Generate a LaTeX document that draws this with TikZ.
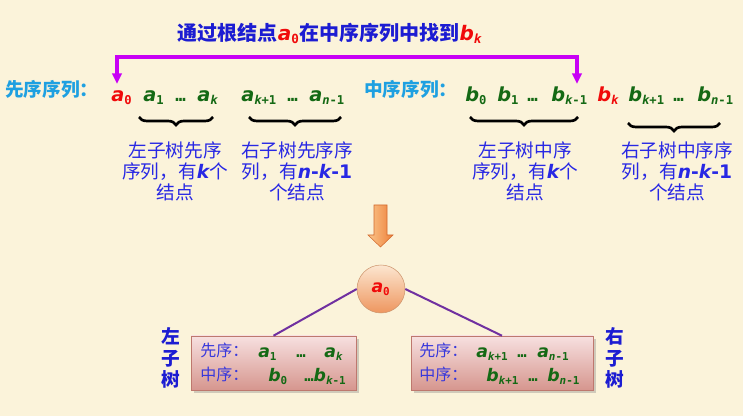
\documentclass[tikz,border=0pt]{standalone}
\usepackage{fontspec}
\setmainfont{Noto Sans CJK SC}
\newfontfamily\varfont{DejaVu Sans}
\newfontfamily\subfont{DejaVu Sans Mono}[Scale=0.9]
\usetikzlibrary{arrows.meta,decorations.pathreplacing,shadows}

\definecolor{bgpaper}{RGB}{251,243,218}
\definecolor{titleblue}{RGB}{28,28,210}
\definecolor{noteblue}{RGB}{40,40,228}
\definecolor{boxblue}{RGB}{55,55,220}
\definecolor{rowcyan}{RGB}{30,160,225}
\definecolor{vargreen}{RGB}{20,105,20}
\definecolor{varred}{RGB}{240,10,10}
\definecolor{linkmag}{RGB}{200,0,245}
\definecolor{treeline}{RGB}{112,48,160}
\definecolor{boxtop}{RGB}{247,224,224}
\definecolor{boxbot}{RGB}{214,150,142}
\definecolor{boxedge}{RGB}{190,120,110}
\definecolor{balltop}{RGB}{252,230,208}
\definecolor{ballbot}{RGB}{238,150,95}
\definecolor{balledge}{RGB}{205,150,110}
\definecolor{arrowlt}{RGB}{250,198,140}
\definecolor{arrowdk}{RGB}{238,128,58}
\definecolor{arrowedge}{RGB}{210,105,45}

\newcommand{\vv}[2]{{\varfont\bfseries\itshape #1}\textsubscript{\subfont\bfseries #2}}
\newcommand{\nv}[1]{{\varfont\bfseries\itshape #1}}
\newcommand{\seqdots}{{\subfont\bfseries …}}

\begin{document}
\begin{tikzpicture}[x=0.75pt,y=-0.75pt,
    seqvar/.style={anchor=base west,inner sep=0pt,text=vargreen,font=\fontsize{14.5}{17}\selectfont},
    boxvar/.style={seqvar,font=\fontsize{13}{15}\selectfont},
    rowlabel/.style={anchor=base west,inner sep=0pt,text=rowcyan,font=\fontsize{14}{16}\selectfont\bfseries},
    boxlabel/.style={anchor=base west,inner sep=0pt,text=boxblue,font=\fontsize{12}{14}\selectfont},
    note/.style={align=center,inner sep=0pt,text=noteblue,font=\fontsize{14}{15.75}\selectfont},
    sidelabel/.style={align=center,inner sep=0pt,text=titleblue,font=\fontsize{14}{16.1}\selectfont\bfseries},
    groupbrace/.style={decorate,decoration={brace,mirror,amplitude=6pt},line width=2pt},
    link/.style={draw=linkmag,line width=3pt,{Triangle[length=8pt,width=7pt]}-{Triangle[length=8pt,width=7pt]}},
    treebox/.style={draw=boxedge,top color=boxtop,bottom color=boxbot,inner sep=0pt,
        drop shadow={shadow xshift=2pt,shadow yshift=-2pt,opacity=0.35}},
    rootball/.style={circle,draw=balledge,top color=balltop,bottom color=ballbot,minimum size=36pt,inner sep=0pt,
        text=varred,font=\fontsize{13}{15}\selectfont}]
\fill[bgpaper] (0,0) rectangle (743,416);
\useasboundingbox (0,0) rectangle (743,416);

\node[anchor=base,inner sep=0pt,text=titleblue,font=\fontsize{15}{17}\selectfont\bfseries] (title) at (330,41)
    {通过根结点\textcolor{varred}{\vv{a}{0}}在中序序列中找到\textcolor{varred}{\vv{b}{\itshape k}}};
\coordinate (linkL) at (117,84);
\coordinate (linkR) at (577,84);
\draw[link] (linkL) -- ++(0,-27) -| (linkR);

\node[rowlabel] (pre) at (5,97) {先序序列：};
    \node[seqvar,text=varred] (a0) at (111,102) {\vv{a}{0}};
    \node[seqvar] (a1) at (143,102) {\vv{a}{1}};
    \node[seqvar] (ad1) at (175,102) {\seqdots};
    \node[seqvar] (ak) at (197,102) {\vv{a}{\itshape k}};
    \node[seqvar] (ak1) at (241,102) {\vv{a}{{\itshape k}+1}};
    \node[seqvar] (ad2) at (287,102) {\seqdots};
    \node[seqvar] (an1) at (309,102) {\vv{a}{{\itshape n}-1}};

\node[rowlabel] (in) at (364,97) {中序序列：};
    \node[seqvar] (b0) at (465,102) {\vv{b}{0}};
    \node[seqvar] (b1) at (497,102) {\vv{b}{1}};
    \node[seqvar] (bd1) at (527,102) {\seqdots};
    \node[seqvar] (bkm1) at (551,102) {\vv{b}{{\itshape k}-1}};
    \node[seqvar,text=varred] (bk) at (597,102) {\vv{b}{\itshape k}};
    \node[seqvar] (bk1) at (628,102) {\vv{b}{{\itshape k}+1}};
    \node[seqvar] (bd2) at (673,102) {\seqdots};
    \node[seqvar] (bn1) at (697,102) {\vv{b}{{\itshape n}-1}};

\draw[groupbrace] (139,117) -- (213,117);
\draw[groupbrace] (249,117) -- (341,117);
\draw[groupbrace] (470,117) -- (578,117);
\draw[groupbrace] (628,123) -- (720,123);

\node[note] (lpre) at (175,171) {左子树先序\\序列，有\nv{k}个\\结点};
\node[note] (rpre) at (297,171) {右子树先序序\\列，有{\varfont\bfseries\nv{n}-\nv{k}-1}\\个结点};
\node[note] (lin) at (525,171) {左子树中序\\序列，有\nv{k}个\\结点};
\node[note] (rin) at (677,171) {右子树中序序\\列，有{\varfont\bfseries\nv{n}-\nv{k}-1}\\个结点};

\draw[arrowedge,left color=arrowlt,right color=arrowdk] (374,205) -- (387,205) -- (387,235) -- (393,235)
    -- (380.5,247) -- (368,235) -- (374,235) -- cycle;

\node[treebox,minimum width=123.75pt,minimum height=40.5pt] (lbox) at (273.5,363) {};
\node[treebox,minimum width=136.5pt,minimum height=40.5pt] (rbox) at (502,363) {};
\node[rootball] (root) at (381,289) {\vv{a}{0}};
\draw[treeline,line width=1.5pt] (root.west) -- (lbox.north);
\draw[treeline,line width=1.5pt] (root.east) -- (rbox.north);

\node[sidelabel] (lside) at (171,358) {左\\子\\树};
\node[sidelabel] (rside) at (615,358) {右\\子\\树};

\node[boxlabel] (lpre2) at (200,357) {先序：};
    \node[boxvar] (la1) at (258,358) {\vv{a}{1}};
    \node[boxvar] (ld1) at (296,358) {\seqdots};
    \node[boxvar] (lak) at (324,358) {\vv{a}{\itshape k}};
\node[boxlabel] (lin2) at (200,381) {中序：};
    \node[boxvar] (lb0) at (268,382) {\vv{b}{0}};
    \node[boxvar] (lbk) at (304,382) {\seqdots\vv{b}{{\itshape k}-1}};

\node[boxlabel] (rpre2) at (419,357) {先序：};
    \node[boxvar] (rak1) at (476,358) {\vv{a}{{\itshape k}+1}};
    \node[boxvar] (rd1) at (517,358) {\seqdots};
    \node[boxvar] (ran1) at (537,358) {\vv{a}{{\itshape n}-1}};
\node[boxlabel] (rin2) at (419,381) {中序：};
    \node[boxvar] (rbk1) at (486,382) {\vv{b}{{\itshape k}+1}};
    \node[boxvar] (rd2) at (528,382) {\seqdots};
    \node[boxvar] (rbn1) at (547,382) {\vv{b}{{\itshape n}-1}};
\end{tikzpicture}
\end{document}
